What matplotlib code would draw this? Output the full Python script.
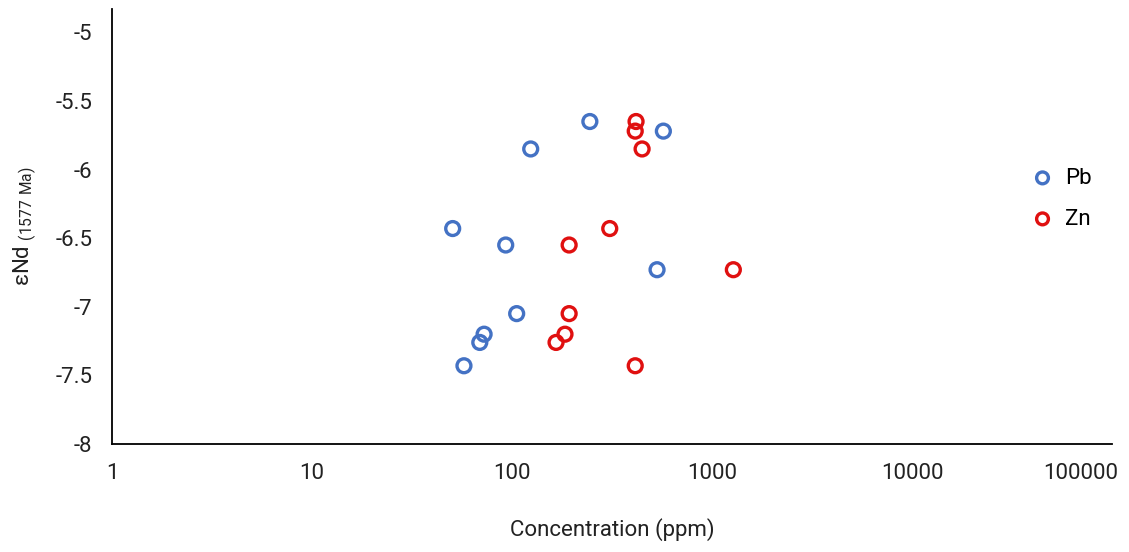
import matplotlib
matplotlib.use("Agg")
import matplotlib.pyplot as plt
from matplotlib.ticker import FixedLocator, FixedFormatter
from matplotlib.transforms import ScaledTranslation

plt.rcParams['font.family'] = ['Liberation Sans Narrow', 'Roboto', 'DejaVu Sans']

# eNd values shared by both elements (same samples)
end_values = [-5.65, -5.72, -5.85, -6.43, -6.55, -6.73, -7.05, -7.20, -7.26, -7.43]
pb_ppm = [245, 571, 124, 50.5, 93, 531, 105.5, 72.5, 69, 57.5]
zn_ppm = [417, 413, 447, 308, 193, 1278, 193, 184, 166, 413]

x_ticks = [1, 10, 100, 1000, 10000, 100000]
x_labels = ['1', '10', '100', '1000', '10000', '100000']
y_ticks = [-8, -7.5, -7, -6.5, -6, -5.5, -5]
y_labels = ['-8', '-7.5', '-7', '-6.5', '-6', '-5.5', '-5']

fig = plt.figure(figsize=(11.29, 5.52), dpi=100)
ax = fig.add_axes([0.0992, 0.1957, 0.8858, 0.788])

ax.scatter(pb_ppm, end_values, s=100, facecolors='none', edgecolors='#4472C4',
           linewidths=2.4, label='Pb', zorder=3)
ax.scatter(zn_ppm, end_values, s=100, facecolors='none', edgecolors='#E01010',
           linewidths=2.4, label='Zn', zorder=3)

ax.set_xscale('log')
ax.set_xlim(1, 100000)
ax.set_ylim(-8, -4.83)
ax.xaxis.set_major_locator(FixedLocator(x_ticks))
ax.xaxis.set_major_formatter(FixedFormatter(x_labels))
ax.xaxis.set_minor_locator(FixedLocator([]))
ax.set_yticks(y_ticks)
ax.set_yticklabels(y_labels)

for side in ['top', 'right']:
    ax.spines[side].set_visible(False)
for side in ['left', 'bottom']:
    ax.spines[side].set_color('black')
    ax.spines[side].set_linewidth(1.3)

ax.tick_params(axis='both', length=0, labelsize=16, colors='#222222')
ax.tick_params(axis='x', pad=14)
ax.tick_params(axis='y', pad=14)

# keep the last label inside the figure, as the original does
last = ax.get_xticklabels()[-1]
last.set_horizontalalignment('right')
last.set_transform(last.get_transform() + ScaledTranslation(0.06, 0, fig.dpi_scale_trans))

ax.set_xlabel('Concentration (ppm)', fontsize=16, labelpad=24, color='#222222')
ax.set_ylabel(r'εNd$_{\mathregular{\ (1577\ Ma)}}$', fontsize=16, labelpad=12,
              color='#222222')

fig.legend(loc='center left', bbox_to_anchor=(0.886, 0.64), frameon=False,
           fontsize=16, handletextpad=0.0, labelspacing=0.9, markerscale=0.85)

fig.savefig('out.png', dpi=100)
